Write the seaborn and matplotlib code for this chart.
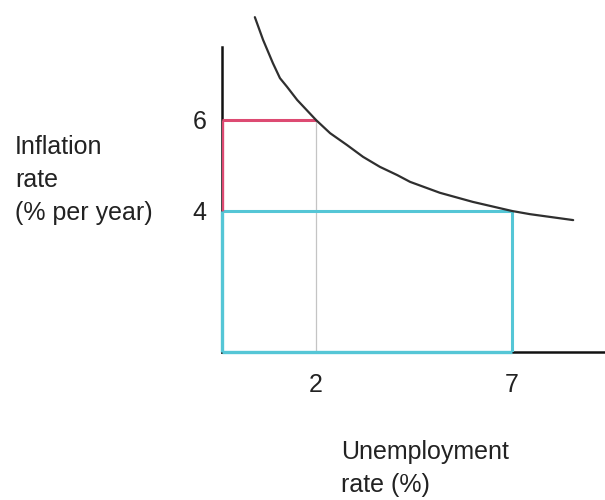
import matplotlib
matplotlib.use("Agg")
import matplotlib.pyplot as plt
import seaborn as sns
import pandas as pd

# ---- data ----
curve_unemp = [0.44, 0.65, 0.90, 1.08, 1.26, 1.52, 2.0, 2.36, 2.79, 3.20, 3.63,
               4.07, 4.40, 5.16, 6.0, 7.0, 7.46, 8.56]
curve_infl = [8.26, 7.76, 7.25, 6.92, 6.73, 6.44, 6.0, 5.71, 5.45, 5.19, 4.97,
              4.79, 4.64, 4.40, 4.20, 4.0, 3.93, 3.80]
unemp_points = [2, 7]
infl_points = [6, 4]
x_tick_labels = ["2", "7"]
y_tick_labels = ["6", "4"]
y_label = "Inflation\nrate\n(% per year)"
x_label = "Unemployment\nrate (%)"

sns.set_theme(style="white")
plt.rcParams["font.family"] = ["Liberation Sans", "DejaVu Sans"]

fig = plt.figure(figsize=(6.05, 5.0), dpi=100)
ax = fig.add_axes([222 / 605, 148 / 500, 1 - 222 / 605, 352 / 500])

x0, x1 = -0.398, 9.372
y0, y1 = 0.901, 8.637
ax.set_xlim(x0, x1)
ax.set_ylim(y0, y1)

df = pd.DataFrame({"u": curve_unemp, "i": curve_infl})
sns.lineplot(data=df, x="u", y="i", ax=ax, color="#2f2f2f", lw=1.6,
             clip_on=False, zorder=5, solid_joinstyle="round")

red = "#dd4a72"
cyan = "#55c6d6"
grey = "#c4c4c4"

u_lo, u_hi = unemp_points
i_hi, i_lo = infl_points
# high-inflation / low-unemployment combination (red)
ax.plot([x0, u_lo], [i_hi, i_hi], color=red, lw=2.2, zorder=3, solid_capstyle="butt")
ax.plot([x0, x0], [i_lo, i_hi], color=red, lw=2.4, zorder=4, solid_capstyle="butt")
ax.plot([u_lo, u_lo], [y0, i_hi], color=grey, lw=0.9, zorder=2)

# low-inflation / high-unemployment combination (cyan)
ax.plot([x0, u_hi], [i_lo, i_lo], color=cyan, lw=2.2, zorder=3, solid_capstyle="butt")
ax.plot([u_hi, u_hi], [y0, i_lo], color=cyan, lw=2.2, zorder=3, solid_capstyle="butt")
ax.plot([x0, u_hi], [y0, y0], color=cyan, lw=2.4, zorder=4, solid_capstyle="butt", clip_on=False)
ax.plot([x0, x0], [y0, i_lo], color=cyan, lw=2.4, zorder=4, solid_capstyle="butt", clip_on=False)

# spines
for s in ["top", "right"]:
    ax.spines[s].set_visible(False)
ax.spines["left"].set_color("#111111")
ax.spines["bottom"].set_color("#111111")
ax.spines["left"].set_linewidth(1.8)
ax.spines["bottom"].set_linewidth(1.8)
ax.spines["left"].set_bounds(y0, 7.6)

ax.set_xticks(unemp_points)
ax.set_xticklabels(x_tick_labels)
ax.set_yticks(infl_points)
ax.set_yticklabels(y_tick_labels)
ax.tick_params(axis="both", length=0, labelsize=18, colors="#222222")
ax.tick_params(axis="x", pad=15)
ax.tick_params(axis="y", pad=11)
ax.set_xlabel("")
ax.set_ylabel("")

fig.text(15 / 605, 1 - 135 / 500, y_label, ha="left", va="top", fontsize=18,
         color="#222222", linespacing=1.47)
fig.text(341 / 605, 1 - 440 / 500, x_label, ha="left", va="top", fontsize=18,
         color="#222222", linespacing=1.45)

fig.savefig("out.png", dpi=100, facecolor="white")
